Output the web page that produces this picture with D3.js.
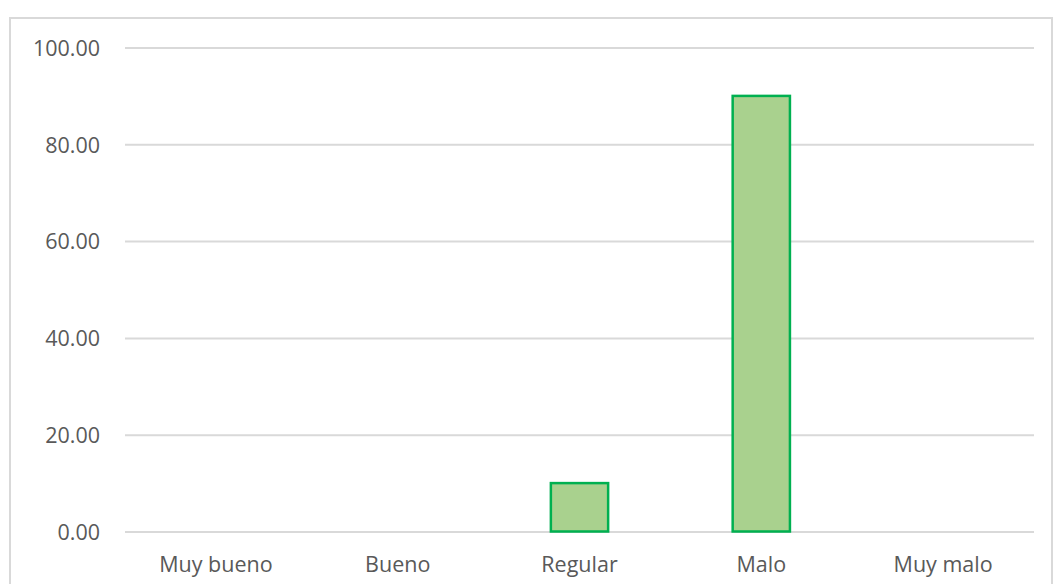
<!DOCTYPE html>
<html><head><meta charset="utf-8">
<script src="https://cdn.jsdelivr.net/npm/d3@7"></script>
<style>html,body{margin:0;padding:0;background:#fff;overflow:hidden}</style>
</head><body>
<svg id="c" width="1053" height="584"></svg>
<script>
const categories = ["Muy bueno", "Bueno", "Regular", "Malo", "Muy malo"];
const values = [0, 0, 10, 90, 0];
const yTicks = [0, 20, 40, 60, 80, 100];

const svg = d3.select("#c");
const font = "'Open Sans', sans-serif";
const L = 125, R = 1034, T = 47.5, B = 531.5;

svg.append("rect").attr("x", 10).attr("y", 18).attr("width", 1042).attr("height", 620)
  .attr("fill", "#fff").attr("stroke", "#D9D9D9").attr("stroke-width", 2);

const x = d3.scaleBand().domain(categories).range([L, R]).padding(0);
const y = d3.scaleLinear().domain([0, 100]).range([B, T]);

const yAxis = svg.append("g").attr("transform", `translate(${L},0)`)
  .call(d3.axisLeft(y).tickValues(yTicks).tickFormat(d3.format(".2f")).tickSize(-(R - L)).tickPadding(25));
yAxis.select(".domain").remove();
yAxis.selectAll("line").attr("stroke", "#D9D9D9").attr("stroke-width", 2);
yAxis.selectAll("text").attr("fill", "#595959").style("font-family", font).style("font-size", "21.5px").attr("dy", "0.36em");

const bw = x.bandwidth() * 0.315;
svg.append("g").selectAll("rect").data(categories.map((c, i) => ({c, v: values[i]})).filter(d => d.v > 0))
  .join("rect")
  .attr("x", d => x(d.c) + x.bandwidth() / 2 - bw / 2)
  .attr("y", d => y(d.v))
  .attr("width", bw)
  .attr("height", d => y(0) - y(d.v))
  .attr("fill", "#A9D18E").attr("stroke", "#00B050").attr("stroke-width", 2.5);

const xAxis = svg.append("g").attr("transform", `translate(0,${B})`)
  .call(d3.axisBottom(x).tickSize(0).tickPadding(25));
xAxis.select(".domain").remove();
xAxis.selectAll("text").attr("fill", "#595959").style("font-family", font).style("font-size", "21.5px");
</script>
</body></html>
